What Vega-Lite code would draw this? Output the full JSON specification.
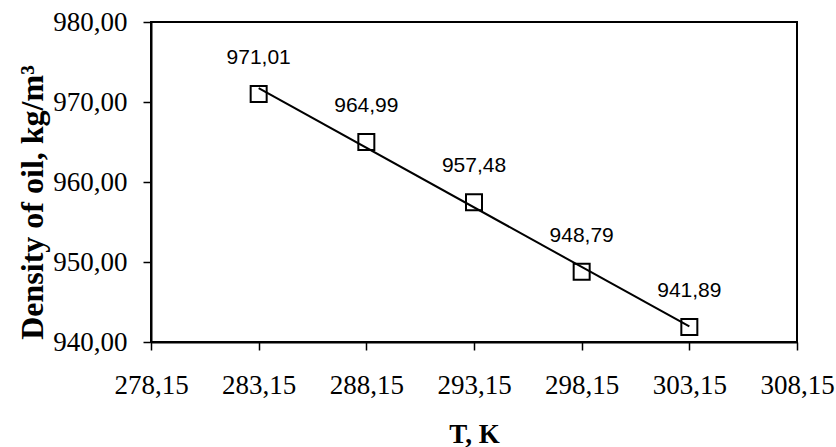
{
  "$schema": "https://vega.github.io/schema/vega-lite/v6.json",
  "autosize": {"type": "none"},
  "padding": {"left": 151, "top": 22, "right": 39, "bottom": 105},
  "width": 646,
  "height": 320,
  "background": "white",
  "data": {
    "values": [
      {"T": 283.15, "density": 971.01},
      {"T": 288.15, "density": 964.99},
      {"T": 293.15, "density": 957.48},
      {"T": 298.15, "density": 948.79},
      {"T": 303.15, "density": 941.89}
    ]
  },
  "layer": [
    {
      "transform": [
        {"regression": "density", "on": "T", "method": "linear", "extent": [283.15, 303.15]}
      ],
      "mark": {"type": "line", "color": "black", "strokeWidth": 2},
      "encoding": {
        "x": {"field": "T", "type": "quantitative"},
        "y": {"field": "density", "type": "quantitative"}
      }
    },
    {
      "mark": {"type": "point", "shape": "square", "size": 256, "filled": false, "stroke": "black", "strokeWidth": 2, "opacity": 1},
      "encoding": {
        "x": {"field": "T", "type": "quantitative"},
        "y": {"field": "density", "type": "quantitative"}
      }
    },
    {
      "mark": {"type": "text", "dy": -36, "font": "Arial, 'Liberation Sans', sans-serif", "fontSize": 21, "color": "black", "align": "center", "baseline": "middle"},
      "encoding": {
        "x": {"field": "T", "type": "quantitative"},
        "y": {"field": "density", "type": "quantitative"},
        "text": {"field": "density", "type": "quantitative", "format": ".2f"}
      }
    }
  ],
  "encoding": {
    "x": {
      "field": "T",
      "type": "quantitative",
      "scale": {"domain": [278.15, 308.15], "nice": false, "zero": false},
      "axis": {
        "title": "T, K",
        "values": [278.15, 283.15, 288.15, 293.15, 298.15, 303.15, 308.15],
        "format": ".2f",
        "labelOverlap": false,
        "labelFlush": false,
        "labelBaseline": "alphabetic",
        "labelPadding": 43,
        "titleFontSize": 27,
        "titleY": 100,
        "titleBaseline": "alphabetic"
      }
    },
    "y": {
      "field": "density",
      "type": "quantitative",
      "scale": {"domain": [940, 980], "nice": false, "zero": false},
      "axis": {
        "title": "Density of oil, kg/m³",
        "values": [940, 950, 960, 970, 980],
        "format": ".2f",
        "labelPadding": 16,
        "titleFontSize": 32,
        "titleX": -109,
        "titleY": 180,
        "titleAlign": "center",
        "titleBaseline": "alphabetic"
      }
    }
  },
  "config": {
    "locale": {
      "number": {"decimal": ",", "thousands": ".", "grouping": [3], "currency": ["", " €"]}
    },
    "view": {"stroke": "black", "strokeWidth": 2},
    "axis": {
      "grid": false,
      "domainColor": "black",
      "domainWidth": 2,
      "tickColor": "black",
      "tickWidth": 1.5,
      "tickSize": 8,
      "labelFont": "'Times New Roman', 'Liberation Serif', serif",
      "labelFontSize": 27,
      "labelColor": "black",
      "titleFont": "'Times New Roman', 'Liberation Serif', serif",
      "titleFontWeight": "bold",
      "titleColor": "black"
    }
  }
}
